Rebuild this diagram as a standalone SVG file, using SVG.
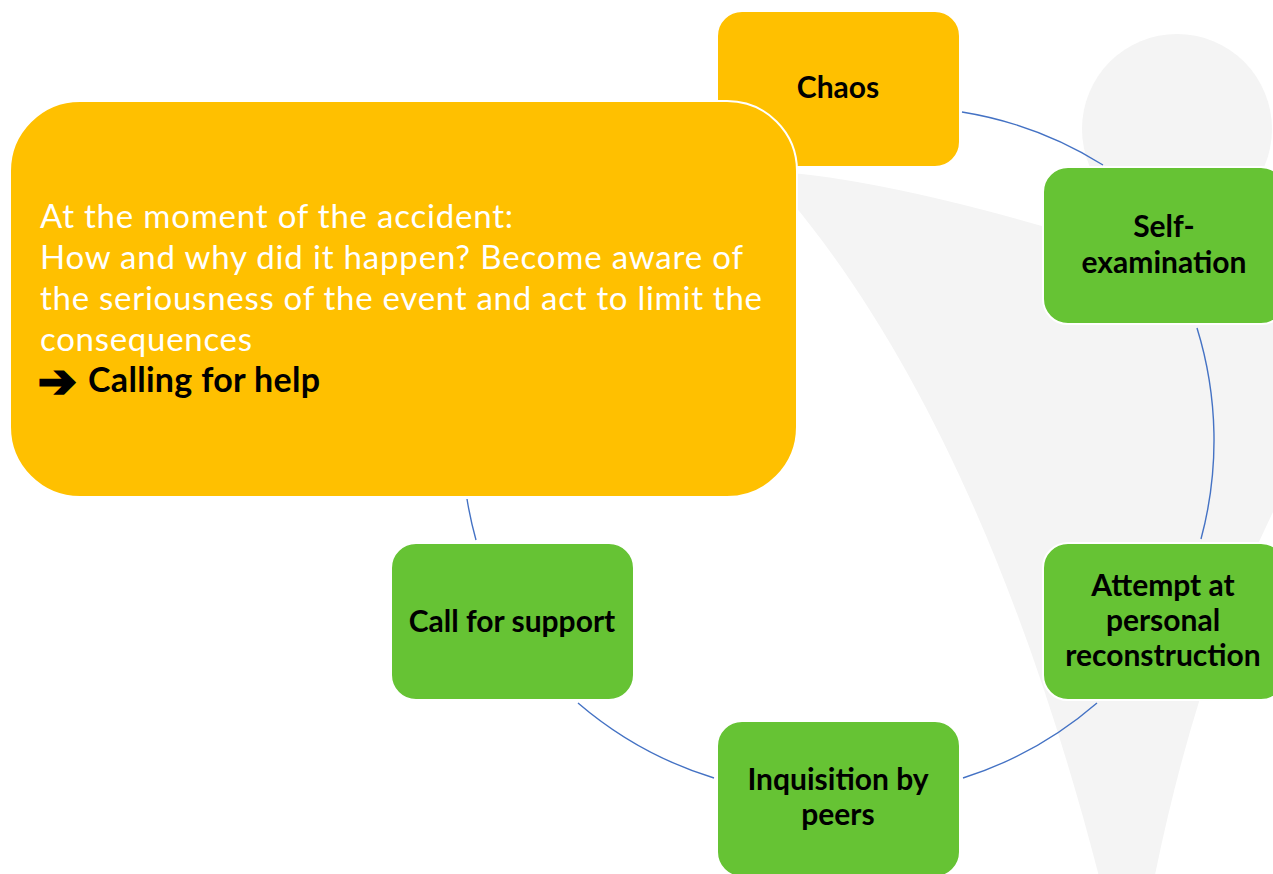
<svg xmlns="http://www.w3.org/2000/svg" width="1273" height="874" viewBox="0 0 1273 874">
<style>
.bg{fill:#f4f4f4}
.conn{fill:none;stroke:#4472C4;stroke-width:1.4}
.box{stroke:#ffffff;stroke-width:2}
.yellow{fill:#FFC000}
.green{fill:#66C334}
.lbl{font-family:Lato,"Liberation Sans",sans-serif;font-weight:bold;font-size:30px;fill:#000;text-anchor:middle}
.note{font-family:Lato,"Liberation Sans",sans-serif;font-size:33px;fill:#fff}
.noteb{font-family:Lato,"Liberation Sans",sans-serif;font-size:34px;font-weight:bold;fill:#000}
.arrow{font-family:"DejaVu Sans",sans-serif;font-size:46px;font-weight:bold;fill:#000;stroke:#000;stroke-width:2.5;stroke-linejoin:miter}
</style>
<rect width="1273" height="874" fill="#ffffff"/>
<g id="background">
<circle class="bg" cx="1177" cy="129" r="95"/>
<path class="bg" d="M 780 172 Q 950 185 1300 310 L 1300 460 Q 1200 640 1150 900 L 1105 900 C 1040 640 940 380 790 200 Z"/>
</g>
<g id="connectors">
<path class="conn" d="M 962 112 A 380 380 0 0 1 1103 165"/>
<path class="conn" d="M 1197 328 A 380 380 0 0 1 1201 539"/>
<path class="conn" d="M 1097 703 A 380 380 0 0 1 963 778"/>
<path class="conn" d="M 714 778 A 380 380 0 0 1 578 703"/>
<path class="conn" d="M 476 540 A 380 380 0 0 1 467 499"/>
</g>
<g id="chaos">
<rect class="box yellow" x="717" y="11" width="243" height="156" rx="25"/>
<text class="lbl" x="838" y="98">Chaos</text>
</g>
<g id="self-examination">
<rect class="box green" x="1043" y="167" width="243" height="157" rx="25"/>
<text class="lbl" x="1164" y="237">Self-</text>
<text class="lbl" x="1164" y="273">examination</text>
</g>
<g id="attempt">
<rect class="box green" x="1043" y="543" width="243" height="157" rx="25"/>
<text class="lbl" x="1163" y="596">Attempt at</text>
<text class="lbl" x="1163" y="631">personal</text>
<text class="lbl" x="1163" y="666">reconstruction</text>
</g>
<g id="inquisition">
<rect class="box green" x="717" y="721" width="243" height="156" rx="25"/>
<text class="lbl" x="838" y="790">Inquisition by</text>
<text class="lbl" x="838" y="825">peers</text>
</g>
<g id="call-for-support">
<rect class="box green" x="391" y="543" width="243" height="157" rx="25"/>
<text class="lbl" x="512" y="632">Call for support</text>
</g>
<g id="callout">
<rect class="box yellow" x="10" y="101" width="787" height="396" rx="70"/>
<text class="note" x="40" y="228" textLength="473" lengthAdjust="spacing">At the moment of the accident:</text>
<text class="note" x="40" y="269" textLength="703" lengthAdjust="spacing">How and why did it happen? Become aware of</text>
<text class="note" x="40" y="310" textLength="722" lengthAdjust="spacing">the seriousness of the event and act to limit the</text>
<text class="note" x="40" y="351" textLength="212" lengthAdjust="spacing">consequences</text>
<text class="arrow" x="38" y="397">➔</text>
<text class="noteb" x="88" y="392" textLength="232" lengthAdjust="spacing">Calling for help</text>
</g>
</svg>
